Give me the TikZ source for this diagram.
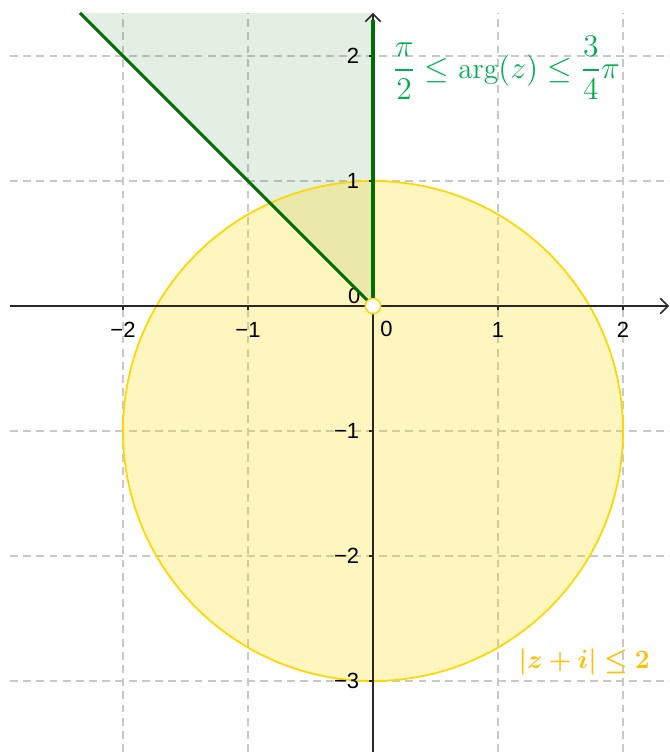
\documentclass[tikz,border=0pt]{standalone}
\usepackage{amsmath,bm}
\usepackage{fontspec}
\newfontfamily\axisfont{Liberation Sans}
\usetikzlibrary{arrows.meta,positioning}
\definecolor{gridgray}{RGB}{200,200,200}
\definecolor{axisgray}{RGB}{40,40,40}
\definecolor{regiongreen}{RGB}{0,110,0}
\definecolor{labelgreen}{RGB}{0,176,80}
\definecolor{circlegold}{RGB}{255,215,0}
\definecolor{labelgold}{RGB}{255,192,0}

\begin{document}
\begin{tikzpicture}[x=2cm,y=2cm,
    gridline/.style={color=gridgray, line width=0.9pt, dash pattern=on 3.6pt off 2.4pt},
    axisline/.style={color=axisgray, line width=0.7pt},
    axisarrow/.style={axisline, -{Straight Barb[length=3.5pt,width=7pt]}},
    ray/.style={color=regiongreen, line width=1.4pt},
    ticklabel/.style={font=\axisfont, inner sep=1pt},
    formula/.style={font=\large, inner sep=0pt}
    ]
    \useasboundingbox (-2.984,-3.568) rectangle (2.368,2.448);
    % grid
    \foreach \x in {-2,-1,1,2}
        \draw[gridline] (\x,-3.568) -- (\x,2.344);
    \foreach \y in {-3,-2,-1,1,2}
        \draw[gridline] (-2.904,\y) -- (2.368,\y);
    % regions
    \coordinate (top) at (0,2.344);
    \coordinate (corner) at (-2.344,2.344);
    \fill[regiongreen, fill opacity=0.11] (0,0) -- (top) -- (corner) -- cycle;
    \fill[circlegold, fill opacity=0.25] (0,-1) circle (2);
    \draw[circlegold, line width=0.8pt] (0,-1) circle (2);
    % axes
    \coordinate (xl) at (-2.904,0);
    \coordinate (xr) at (2.368,0);
    \coordinate (yb) at (0,-3.568);
    \coordinate (yt) at (0,2.344);
    \draw[axisarrow] (xl) -- (xr);
    \draw[axisarrow] (yb) -- (yt);
    \foreach \x in {-2,-1,1,2}
        \draw[axisline] (\x,0) -- (\x,-0.035);
    \foreach \y in {-3,-2,-1,1,2}
        \draw[axisline] (0,\y) -- (-0.035,\y);
    % tick labels
    \foreach \x/\t in {-2/−2,-1/−1,1/1,2/2}
        \node[ticklabel] (lx\x) at (\x,-0.19) {\t};
    \foreach \y/\t in {-3/−3,-2/−2,-1/−1,1/1,2/2}
        \node[ticklabel, anchor=east] (ly\y) at (-0.09,\y) {\t};
    \node[ticklabel] (lx0) at (0.108,-0.18) {0};
    \node[ticklabel] (ly0) at (-0.15,0.08) {0};
    % rays of the sector
    \node[circle, draw=circlegold, fill=white, line width=0.7pt,
        inner sep=0pt, minimum size=7pt] (O) at (0,0) {};
    \coordinate (raytop) at (0,2.29);
    \draw[ray] (O) -- (raytop);
    \draw[ray] (O) -- (corner);
    % labels
    \node[formula, text=labelgreen, font=\fontsize{13.4}{16}\selectfont] (arglabel) at (1.064,1.904)
        {$\dfrac{\pi}{2}\le\arg(z)\le\dfrac{3}{4}\pi$};
    \node[formula, text=labelgold] (modlabel) at (1.69,-2.848)
        {$\bm{|z+i|\le 2}$};
\end{tikzpicture}
\end{document}
